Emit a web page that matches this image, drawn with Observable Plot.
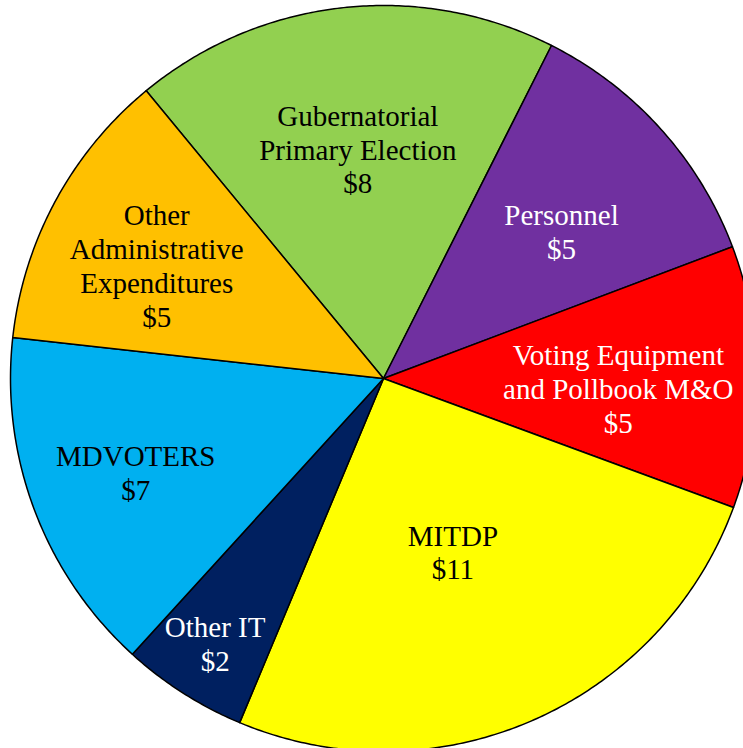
<!DOCTYPE html>
<html>
<head>
<meta charset="utf-8">
<script src="https://cdn.jsdelivr.net/npm/d3@7"></script>
<script src="https://cdn.jsdelivr.net/npm/@observablehq/plot@0.6"></script>
<style>
  html, body { margin: 0; padding: 0; background: #fff; overflow: hidden; }
</style>
</head>
<body>
<div id="chart"></div>
<script>
// Data (clockwise from the Gubernatorial slice)
const categories = [
  "Gubernatorial\nPrimary Election",
  "Personnel",
  "Voting Equipment\nand Pollbook M&O",
  "MITDP",
  "Other IT",
  "MDVOTERS",
  "Other\nAdministrative\nExpenditures"
];
const values = [8.1, 5.2, 5.0, 11.3, 2.4, 6.6, 5.4];
const valueLabels = ["$8", "$5", "$5", "$11", "$2", "$7", "$5"];

// Styles / layout
const colors = ["#92D050", "#7030A0", "#FF0000", "#FFFF00", "#002060", "#00B0F0", "#FFC000"];
const textColors = ["black", "white", "white", "black", "white", "black", "black"];
const labelRadius = [0.62, 0.62, 0.63, 0.50, 0.84, 0.71, 0.68];
const labelAngleShift = [0, 2.3, 2.5, 1.7, 0, 0, -1.8]; // degrees
const startAngle = -39.5 * Math.PI / 180;

const pie = d3.pie().sort(null).value(d => d)
  .startAngle(startAngle).endAngle(startAngle + 2 * Math.PI);
const arcs = pie(values);

// polygon points for each slice (unit circle, angle clockwise from 12 o'clock, y down)
const pts = [];
arcs.forEach((a, i) => {
  const n = Math.max(8, Math.ceil((a.endAngle - a.startAngle) / (Math.PI / 360)));
  pts.push({i, x: 0, y: 0});
  for (let k = 0; k <= n; k++) {
    const t = a.startAngle + (a.endAngle - a.startAngle) * k / n;
    pts.push({i, x: Math.sin(t), y: -Math.cos(t)});
  }
  pts.push({i, x: 0, y: 0});
});

const labels = arcs.map((a, i) => {
  const m = (a.startAngle + a.endAngle) / 2 + labelAngleShift[i] * Math.PI / 180;
  return {
    x: Math.sin(m) * labelRadius[i],
    y: -Math.cos(m) * labelRadius[i],
    text: categories[i] + "\n" + valueLabels[i],
    color: textColors[i]
  };
});

const R = 373, cx = 383, cy = 378;
const chart = Plot.plot({
  width: 743,
  height: 748,
  margin: 0,
  style: {maxWidth: "none", overflow: "hidden"},
  x: {domain: [-1, 1], range: [cx - R, cx + R], axis: null},
  y: {domain: [-1, 1], range: [cy - R, cy + R], axis: null},
  marks: [
    Plot.line(pts, {
      x: "x", y: "y", z: "i",
      fill: d => colors[d.i],
      stroke: "black", strokeWidth: 1.5, strokeLinejoin: "round"
    }),
    Plot.text(labels, {
      x: "x", y: "y", text: "text",
      fill: "color",
      fontSize: 29, lineHeight: 1.17,
      fontFamily: "Liberation Serif, Times New Roman, serif",
      textAnchor: "middle"
    })
  ]
});
chart.style.display = "block";
document.getElementById("chart").appendChild(chart);
</script>
</body>
</html>
